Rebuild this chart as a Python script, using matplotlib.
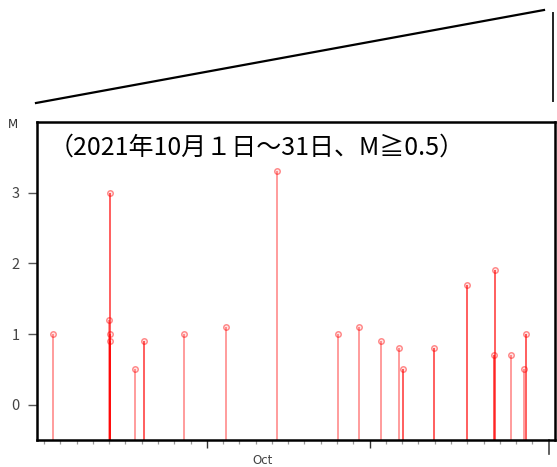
import numpy as np
import pandas as pd
import matplotlib
matplotlib.use("Agg")
import matplotlib.pyplot as plt
import matplotlib.dates as mdates
from matplotlib.lines import Line2D

plt.rcParams['font.family'] = ['Noto Sans CJK JP', 'DejaVu Sans']

# ── data: event times (JST) and magnitudes, Oct 2021 ─────────────────────────
event_times = [
    "2021-10-01 12:50", "2021-10-04 23:30", "2021-10-05 01:40", "2021-10-05 01:50",
    "2021-10-05 02:00", "2021-10-06 14:20", "2021-10-07 04:00", "2021-10-09 15:00",
    "2021-10-12 05:00", "2021-10-15 07:20", "2021-10-19 02:10", "2021-10-20 09:00",
    "2021-10-21 17:00", "2021-10-22 20:00", "2021-10-23 01:00", "2021-10-24 23:00",
    "2021-10-26 23:45", "2021-10-28 16:00", "2021-10-28 17:00", "2021-10-29 17:00",
    "2021-10-30 12:00", "2021-10-30 14:30",
]
magnitudes = [
    1.0, 1.2, 3.0, 1.0,
    0.9, 0.5, 0.9, 1.0,
    1.1, 3.3, 1.0, 1.1,
    0.9, 0.8, 0.5, 0.8,
    1.7, 0.7, 1.9, 0.7,
    0.5, 1.0,
]
# stems drawn darker in the source (stacked events)
dark_stem = [
    False, False, True, True,
    True, False, True, False,
    False, False, False, False,
    False, False, True, True,
    True, True, True, False,
    False, True,
]
y_ticks = [0, 1, 2, 3]
title_text = "（2021年10月１日～31日、M≧0.5）"

t = mdates.date2num(pd.to_datetime(event_times).to_pydatetime())
m = np.array(magnitudes)

# ── figure ────────────────────────────────────────────────────────────────────
W, H = 557, 467
fig = plt.figure(figsize=(W / 100, H / 100), dpi=100)
ax = fig.add_axes([37 / W, (H - 440) / H, (555 - 37) / W, (440 - 122) / H])

start = mdates.date2num(pd.Timestamp("2021-10-01").to_pydatetime())
end = mdates.date2num(pd.Timestamp("2021-11-01").to_pydatetime())
ax.set_xlim(start - 0.43, end + 0.39)
ax.set_ylim(-0.5, 4.0)

stem_colors = [(1, 0, 0, 0.68) if d else (1, 0, 0, 0.42) for d in dark_stem]
ax.vlines(t, -0.5, m, colors=stem_colors, linewidth=1.3, zorder=2)
ax.plot(t, m, linestyle="none", marker="o", markersize=4.0,
        markerfacecolor=(1, 0, 0, 0.1), markeredgecolor=(1, 0, 0, 0.45),
        markeredgewidth=1.0, zorder=3)

for s in ax.spines.values():
    s.set_linewidth(1.8)
    s.set_color("black")

# y axis
ax.set_yticks(y_ticks)
ax.tick_params(axis="y", direction="out", length=6.5, width=1.0,
               color="#555555", labelcolor="#444444", labelsize=10.5, pad=6)

# x axis: daily minor ticks, a couple of longer ticks, long tick at month end
days = pd.date_range("2021-10-01", "2021-10-31", freq="D")
ax.set_xticks(mdates.date2num(days.to_pydatetime()), minor=True)
ax.set_xticks(mdates.date2num(pd.to_datetime(["2021-10-11", "2021-10-21"]).to_pydatetime()))
ax.set_xticklabels([])
ax.tick_params(axis="x", which="minor", direction="out", length=3, width=0.9, color="#999999")
ax.tick_params(axis="x", which="major", direction="out", length=6, width=1.0, color="#333333")
ax.plot([end, end], [0, -0.045], transform=ax.get_xaxis_transform(),
        color="#444444", linewidth=1.2, clip_on=False)

ax.text(mdates.date2num(pd.Timestamp("2021-10-14 10:00").to_pydatetime()), -0.045, "Oct",
        transform=ax.get_xaxis_transform(), ha="center", va="top",
        fontsize=8.5, color="#444444", family=['DejaVu Sans'])

# M label at top of y axis
fig.text(13 / W, 1 - 124 / H, "M", ha="center", va="center", fontsize=8.5,
         color="#333333", family=['DejaVu Sans'])

# period caption
ax.text(0.022, 0.92, title_text, transform=ax.transAxes, ha="left", va="center",
        fontsize=18, color="black")

# wedge decoration above the plot
fig.add_artist(Line2D([36 / W, 544 / W], [1 - 103 / H, 1 - 10 / H],
                      color="black", linewidth=1.6, transform=fig.transFigure))
fig.add_artist(Line2D([553 / W, 553 / W], [1 - 13 / H, 1 - 101 / H],
                      color="#222222", linewidth=1.4, transform=fig.transFigure))

fig.savefig("out.png", dpi=100)
